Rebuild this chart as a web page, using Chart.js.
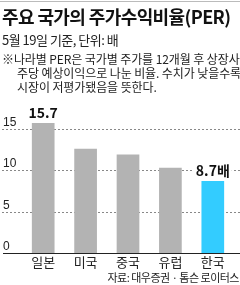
<!DOCTYPE html>
<html><head><meta charset="utf-8">
<script src="https://cdn.jsdelivr.net/npm/chart.js@4"></script>
<style>
html,body{margin:0;padding:0;background:#fff;}
#wrap{position:relative;width:240px;height:285px;overflow:hidden;font-family:"Noto Sans CJK KR","Noto Sans",sans-serif;color:#222;}
#topline{position:absolute;left:0;top:1px;width:240px;height:1px;background:#bbb;}
.t{position:absolute;white-space:nowrap;z-index:2;}
#title{left:2px;top:3px;font-size:18px;line-height:26px;font-weight:bold;color:#111;letter-spacing:-0.6px;}
#sub{left:2px;top:30px;font-size:13px;line-height:20px;color:#222;letter-spacing:-0.5px;}
#note{left:2px;top:52px;font-size:12px;line-height:14px;color:#222;letter-spacing:-0.1px;}
#note span{display:block;}
#src{right:1px;top:270px;font-size:11px;line-height:15px;color:#222;letter-spacing:-0.5px;}
canvas{position:absolute;left:0;top:0;z-index:1;}
</style></head>
<body><div id="wrap">
<div id="topline"></div>
<div class="t" id="title">주요 국가의 주가수익비율(PER)</div>
<div class="t" id="sub">5월 19일 기준, 단위: 배</div>
<div class="t" id="note"><span>※나라별 PER은 국가별 주가를 12개월 후 상장사</span><span style="padding-left:15px">주당 예상이익으로 나눈 비율. 수치가 낮을수록</span><span style="padding-left:15px">시장이 저평가됐음을 뜻한다.</span></div>
<canvas id="c" width="240" height="285" style="width:240px;height:285px"></canvas>
<div class="t" id="src">자료: 대우증권 · 톰슨 로이터스</div>
</div>
<script>
const categories = ["일본","미국","중국","유럽","한국"];
const perValues = [15.7, 12.6, 11.9, 10.3, 8.7];
const valueLabels = ["15.7","","","","8.7배"];
const tickValues = [0, 5, 10, 15];
const barColors = ["#b3b3b3","#b3b3b3","#b3b3b3","#b3b3b3","#33ccff"];

const FONT = '"Noto Sans CJK KR","Noto Sans",sans-serif';

const deco = {
  id:'deco',
  beforeDatasetsDraw(chart){
    const ctx = chart.ctx, y = chart.scales.y;
    ctx.save();
    tickValues.forEach(v=>{
      const py = Math.round(y.getPixelForValue(v)) + 0.5;
      ctx.beginPath();
      if (v === 0) { ctx.setLineDash([]); ctx.strokeStyle = '#222'; ctx.lineWidth = 1.2; ctx.moveTo(3, py); ctx.lineTo(240, py); }
      else { ctx.setLineDash([2,2]); ctx.strokeStyle = '#888'; ctx.lineWidth = 1; ctx.moveTo(2, py); ctx.lineTo(240, py); }
      ctx.stroke();
      ctx.setLineDash([]);
      ctx.fillStyle = '#222';
      ctx.font = '12px "Liberation Sans Narrow","Liberation Sans",sans-serif';
      ctx.textAlign = 'left'; ctx.textBaseline = 'bottom';
      ctx.fillText(String(v), 3, py - 1);
    });
    ctx.restore();
  },
  afterDatasetsDraw(chart){
    const ctx = chart.ctx, meta = chart.getDatasetMeta(0);
    ctx.save();
    meta.data.forEach((bar,i)=>{
      const lab = valueLabels[i];
      if(!lab) return;
      ctx.font = 'bold 14px ' + FONT;
      ctx.textAlign = 'center'; ctx.textBaseline = 'bottom';
      if (i === 4) {
        const w = ctx.measureText(lab).width;
        ctx.fillStyle = '#fff';
        ctx.fillRect(bar.x - w/2 - 2, bar.y - 20, w + 4, 14);
      }
      ctx.fillStyle = '#111';
      ctx.fillText(lab, bar.x, bar.y - 3);
    });
    ctx.restore();
  }
};

new Chart(document.getElementById('c'), {
  type:'bar',
  data:{ labels:categories, datasets:[{ data:perValues, backgroundColor:barColors, borderWidth:0, barPercentage:0.535, categoryPercentage:1 }]},
  options:{
    responsive:false, animation:false,
    layout:{ padding:{ left:22, right:6, top:104, bottom:0 } },
    plugins:{ legend:{display:false}, tooltip:{enabled:false} },
    scales:{
      x:{ grid:{display:false, drawTicks:false}, border:{display:false},
          ticks:{ color:'#222', font:{ family:FONT, size:13, lineHeight:1 }, padding:3 }, afterFit(s){ s.height = 32; } },
      y:{ min:0, max:18, display:false }
    }
  },
  plugins:[deco]
});
</script>
</body></html>
